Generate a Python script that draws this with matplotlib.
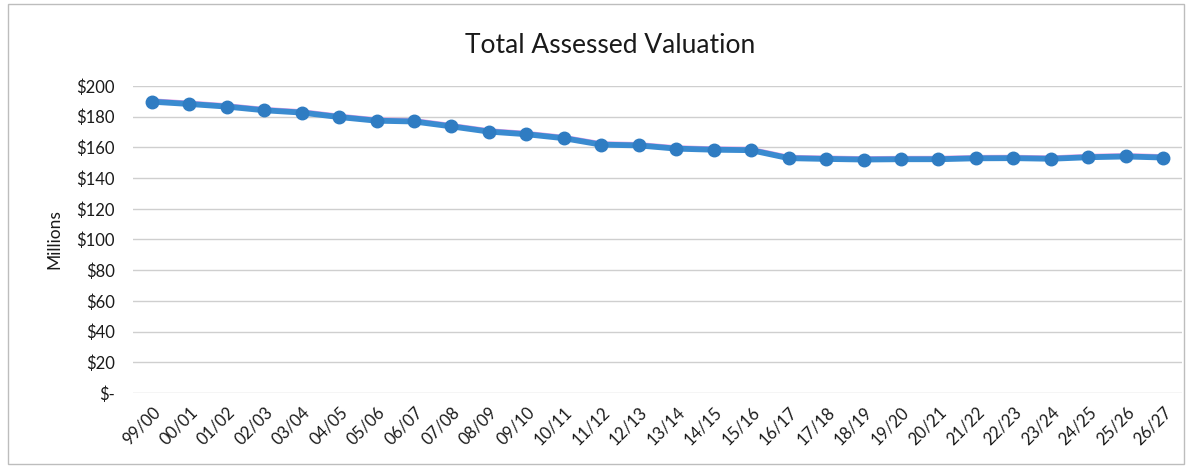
import matplotlib
matplotlib.use("Agg")
import matplotlib.pyplot as plt
import matplotlib.transforms as mtransforms
from matplotlib.patches import Rectangle

years = ["99/00", "00/01", "01/02", "02/03", "03/04", "04/05", "05/06", "06/07",
         "07/08", "08/09", "09/10", "10/11", "11/12", "12/13", "13/14", "14/15",
         "15/16", "16/17", "17/18", "18/19", "19/20", "20/21", "21/22", "22/23",
         "23/24", "24/25", "25/26", "26/27"]
valuation = [189.8, 188.3, 186.6, 184.2, 182.7, 179.8, 177.4, 176.9, 173.7, 170.3,
             168.6, 166.0, 161.8, 161.3, 159.2, 158.5, 158.2, 153.0, 152.5, 152.1,
             152.3, 152.3, 152.9, 153.0, 152.6, 153.6, 154.1, 153.4]
yticks = [0, 20, 40, 60, 80, 100, 120, 140, 160, 180, 200]
ytick_labels = ["$-", "$20", "$40", "$60", "$80", "$100", "$120", "$140", "$160", "$180", "$200"]

plt.rcParams['font.family'] = ['Lato', 'DejaVu Sans']

fig = plt.figure(figsize=(11.92, 4.68), dpi=100)
ax = fig.add_axes([0.1116, 0.1603, 0.880, 0.6559])

x = list(range(len(years)))
# faint pink halo line slightly above the main series
offset = mtransforms.offset_copy(ax.transData, fig=fig, x=0, y=2.0, units='dots')
ax.plot(x, valuation, color="#e49ae6", lw=2.0, transform=offset, zorder=2)
ax.plot(x, valuation, color="#3a8bd0", lw=4.2, marker="o", markersize=9,
        markerfacecolor="#2f7cc2", markeredgecolor="#2f7cc2", zorder=3)

ax.set_xlim(-0.5, len(years) - 0.5)
ax.set_ylim(0, 200)
ax.set_yticks(yticks)
ax.set_yticklabels(ytick_labels, fontsize=12, color="#1a1a1a")
ax.set_xticks(x)
ax.set_xticklabels(years, rotation=45, ha="right", rotation_mode="anchor",
                   fontsize=12, color="#1a1a1a")
ax.tick_params(axis="both", length=0)
ax.tick_params(axis="y", pad=13)
ax.tick_params(axis="x", pad=8)
ax.grid(axis="y", color="#cfcfcf", lw=1.0)
ax.set_axisbelow(True)
for s in ax.spines.values():
    s.set_visible(False)

ax.set_ylabel("Millions", fontsize=12.5, color="#1a1a1a", labelpad=10)
fig.text(0.512, 0.902, "Total Assessed Valuation", ha="center", va="center",
         fontsize=19, color="#1a1a1a")

fig.patches.append(Rectangle((0.007, 0.008), 0.986, 0.984, transform=fig.transFigure,
                             fill=False, edgecolor="#bdbdbd", lw=1.0))

fig.savefig("out.png", dpi=100)
